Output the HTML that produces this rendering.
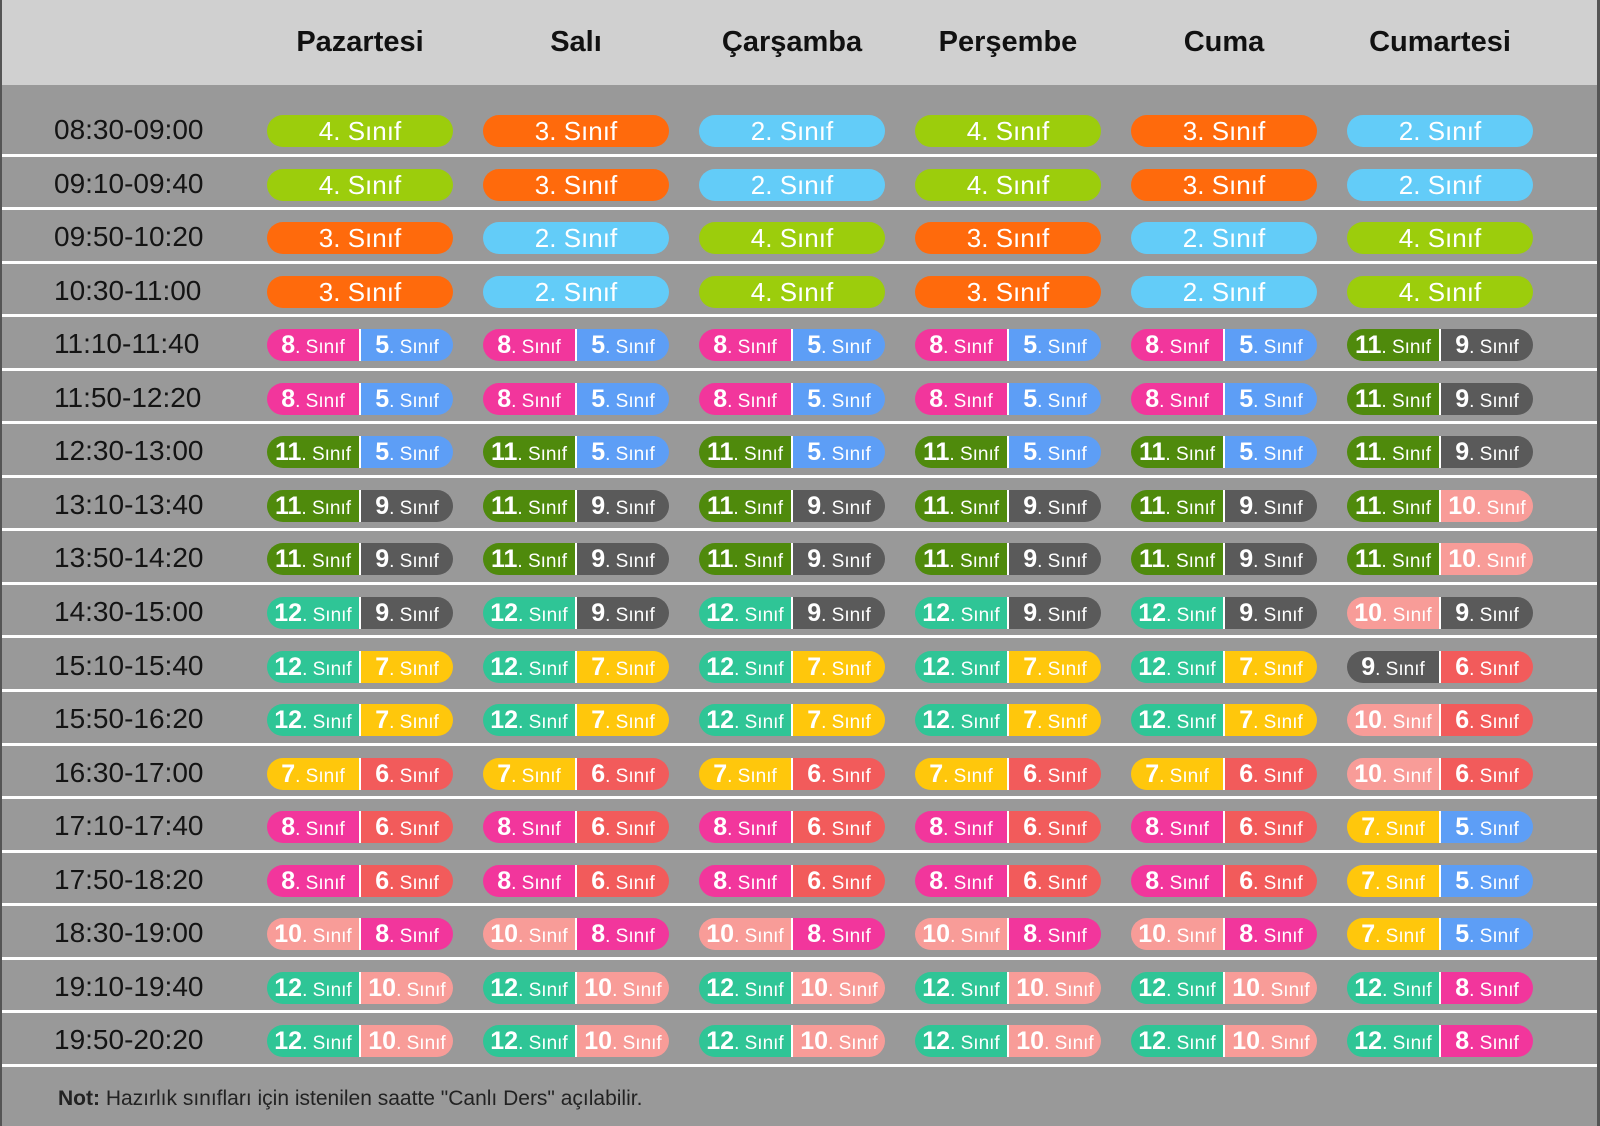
<!DOCTYPE html>
<html><head><meta charset="utf-8"><style>
*{margin:0;padding:0;box-sizing:border-box}
body{width:1600px;height:1126px;background:#999;position:relative;overflow:hidden;font-family:"Liberation Sans",sans-serif}
.hd{position:absolute;left:0;top:0;width:1600px;height:85px;background:#d0d0d0}
.hd div{position:absolute;top:26px;width:216px;margin-left:-108px;text-align:center;font-weight:bold;font-size:29px;color:#111}
.r{position:absolute;left:0;width:1600px;height:53.55px;border-bottom:3px solid #fff}
.t{position:absolute;left:54px;top:11px;font-size:28px;color:#141414}
.p{position:absolute;top:12px;width:186px;height:32px;border-radius:16px;overflow:hidden;display:flex;color:#fff;font-weight:normal;font-size:26px;line-height:32px;text-align:center;justify-content:center}
.p span{flex:1;display:block;font-size:19px;font-weight:normal;text-align:center}
.p span b{font-size:25px;font-weight:bold}
.p span+span{border-left:2px solid #fff}
.c1{left:267px}.c2{left:483px}.c3{left:699px}.c4{left:915px}.c5{left:1131px}.c6{left:1347px}
.g4{background:#9ccd0c}.o3{background:#ff6a0c}.b2{background:#63ccf8}
.k8{background:#f2369c}.b5{background:#5d9ef6}.d11{background:#4f8a0c}.n9{background:#5a5a5a}
.t12{background:#2fc596}.y7{background:#ffc70c}.r6{background:#f25b5b}.s10{background:#f89c98}
.ft{position:absolute;left:58px;top:1087px;font-size:21px;color:#222}
.edge{position:absolute;top:0;width:3px;height:1126px;background:#555}
</style></head><body>
<div class="hd">
<div style="left:360px">Pazartesi</div><div style="left:576px">Salı</div><div style="left:792px">Çarşamba</div><div style="left:1008px">Perşembe</div><div style="left:1224px">Cuma</div><div style="left:1440px">Cumartesi</div>
</div>

<div class="r" style="top:103px;border-top:0"><div class="t">08:30-09:00</div>
<div class="p c1 g4">4. Sınıf</div><div class="p c2 o3">3. Sınıf</div><div class="p c3 b2">2. Sınıf</div><div class="p c4 g4">4. Sınıf</div><div class="p c5 o3">3. Sınıf</div><div class="p c6 b2">2. Sınıf</div></div>

<div class="r" style="top:156.5px"><div class="t">09:10-09:40</div>
<div class="p c1 g4">4. Sınıf</div><div class="p c2 o3">3. Sınıf</div><div class="p c3 b2">2. Sınıf</div><div class="p c4 g4">4. Sınıf</div><div class="p c5 o3">3. Sınıf</div><div class="p c6 b2">2. Sınıf</div></div>

<div class="r" style="top:210.1px"><div class="t">09:50-10:20</div>
<div class="p c1 o3">3. Sınıf</div><div class="p c2 b2">2. Sınıf</div><div class="p c3 g4">4. Sınıf</div><div class="p c4 o3">3. Sınıf</div><div class="p c5 b2">2. Sınıf</div><div class="p c6 g4">4. Sınıf</div></div>

<div class="r" style="top:263.6px"><div class="t">10:30-11:00</div>
<div class="p c1 o3">3. Sınıf</div><div class="p c2 b2">2. Sınıf</div><div class="p c3 g4">4. Sınıf</div><div class="p c4 o3">3. Sınıf</div><div class="p c5 b2">2. Sınıf</div><div class="p c6 g4">4. Sınıf</div></div>

<div class="r" style="top:317.2px"><div class="t">11:10-11:40</div>
<div class="p c1"><span class="k8"><b>8</b>. Sınıf</span><span class="b5"><b>5</b>. Sınıf</span></div>
<div class="p c2"><span class="k8"><b>8</b>. Sınıf</span><span class="b5"><b>5</b>. Sınıf</span></div>
<div class="p c3"><span class="k8"><b>8</b>. Sınıf</span><span class="b5"><b>5</b>. Sınıf</span></div>
<div class="p c4"><span class="k8"><b>8</b>. Sınıf</span><span class="b5"><b>5</b>. Sınıf</span></div>
<div class="p c5"><span class="k8"><b>8</b>. Sınıf</span><span class="b5"><b>5</b>. Sınıf</span></div>
<div class="p c6"><span class="d11"><b>11</b>. Sınıf</span><span class="n9"><b>9</b>. Sınıf</span></div></div>

<div class="r" style="top:370.7px"><div class="t">11:50-12:20</div>
<div class="p c1"><span class="k8"><b>8</b>. Sınıf</span><span class="b5"><b>5</b>. Sınıf</span></div>
<div class="p c2"><span class="k8"><b>8</b>. Sınıf</span><span class="b5"><b>5</b>. Sınıf</span></div>
<div class="p c3"><span class="k8"><b>8</b>. Sınıf</span><span class="b5"><b>5</b>. Sınıf</span></div>
<div class="p c4"><span class="k8"><b>8</b>. Sınıf</span><span class="b5"><b>5</b>. Sınıf</span></div>
<div class="p c5"><span class="k8"><b>8</b>. Sınıf</span><span class="b5"><b>5</b>. Sınıf</span></div>
<div class="p c6"><span class="d11"><b>11</b>. Sınıf</span><span class="n9"><b>9</b>. Sınıf</span></div></div>

<div class="r" style="top:424.3px"><div class="t">12:30-13:00</div>
<div class="p c1"><span class="d11"><b>11</b>. Sınıf</span><span class="b5"><b>5</b>. Sınıf</span></div>
<div class="p c2"><span class="d11"><b>11</b>. Sınıf</span><span class="b5"><b>5</b>. Sınıf</span></div>
<div class="p c3"><span class="d11"><b>11</b>. Sınıf</span><span class="b5"><b>5</b>. Sınıf</span></div>
<div class="p c4"><span class="d11"><b>11</b>. Sınıf</span><span class="b5"><b>5</b>. Sınıf</span></div>
<div class="p c5"><span class="d11"><b>11</b>. Sınıf</span><span class="b5"><b>5</b>. Sınıf</span></div>
<div class="p c6"><span class="d11"><b>11</b>. Sınıf</span><span class="n9"><b>9</b>. Sınıf</span></div></div>

<div class="r" style="top:477.8px"><div class="t">13:10-13:40</div>
<div class="p c1"><span class="d11"><b>11</b>. Sınıf</span><span class="n9"><b>9</b>. Sınıf</span></div>
<div class="p c2"><span class="d11"><b>11</b>. Sınıf</span><span class="n9"><b>9</b>. Sınıf</span></div>
<div class="p c3"><span class="d11"><b>11</b>. Sınıf</span><span class="n9"><b>9</b>. Sınıf</span></div>
<div class="p c4"><span class="d11"><b>11</b>. Sınıf</span><span class="n9"><b>9</b>. Sınıf</span></div>
<div class="p c5"><span class="d11"><b>11</b>. Sınıf</span><span class="n9"><b>9</b>. Sınıf</span></div>
<div class="p c6"><span class="d11"><b>11</b>. Sınıf</span><span class="s10"><b>10</b>. Sınıf</span></div></div>

<div class="r" style="top:531.4px"><div class="t">13:50-14:20</div>
<div class="p c1"><span class="d11"><b>11</b>. Sınıf</span><span class="n9"><b>9</b>. Sınıf</span></div>
<div class="p c2"><span class="d11"><b>11</b>. Sınıf</span><span class="n9"><b>9</b>. Sınıf</span></div>
<div class="p c3"><span class="d11"><b>11</b>. Sınıf</span><span class="n9"><b>9</b>. Sınıf</span></div>
<div class="p c4"><span class="d11"><b>11</b>. Sınıf</span><span class="n9"><b>9</b>. Sınıf</span></div>
<div class="p c5"><span class="d11"><b>11</b>. Sınıf</span><span class="n9"><b>9</b>. Sınıf</span></div>
<div class="p c6"><span class="d11"><b>11</b>. Sınıf</span><span class="s10"><b>10</b>. Sınıf</span></div></div>

<div class="r" style="top:584.9px"><div class="t">14:30-15:00</div>
<div class="p c1"><span class="t12"><b>12</b>. Sınıf</span><span class="n9"><b>9</b>. Sınıf</span></div>
<div class="p c2"><span class="t12"><b>12</b>. Sınıf</span><span class="n9"><b>9</b>. Sınıf</span></div>
<div class="p c3"><span class="t12"><b>12</b>. Sınıf</span><span class="n9"><b>9</b>. Sınıf</span></div>
<div class="p c4"><span class="t12"><b>12</b>. Sınıf</span><span class="n9"><b>9</b>. Sınıf</span></div>
<div class="p c5"><span class="t12"><b>12</b>. Sınıf</span><span class="n9"><b>9</b>. Sınıf</span></div>
<div class="p c6"><span class="s10"><b>10</b>. Sınıf</span><span class="n9"><b>9</b>. Sınıf</span></div></div>

<div class="r" style="top:638.5px"><div class="t">15:10-15:40</div>
<div class="p c1"><span class="t12"><b>12</b>. Sınıf</span><span class="y7"><b>7</b>. Sınıf</span></div>
<div class="p c2"><span class="t12"><b>12</b>. Sınıf</span><span class="y7"><b>7</b>. Sınıf</span></div>
<div class="p c3"><span class="t12"><b>12</b>. Sınıf</span><span class="y7"><b>7</b>. Sınıf</span></div>
<div class="p c4"><span class="t12"><b>12</b>. Sınıf</span><span class="y7"><b>7</b>. Sınıf</span></div>
<div class="p c5"><span class="t12"><b>12</b>. Sınıf</span><span class="y7"><b>7</b>. Sınıf</span></div>
<div class="p c6"><span class="n9"><b>9</b>. Sınıf</span><span class="r6"><b>6</b>. Sınıf</span></div></div>

<div class="r" style="top:692px"><div class="t">15:50-16:20</div>
<div class="p c1"><span class="t12"><b>12</b>. Sınıf</span><span class="y7"><b>7</b>. Sınıf</span></div>
<div class="p c2"><span class="t12"><b>12</b>. Sınıf</span><span class="y7"><b>7</b>. Sınıf</span></div>
<div class="p c3"><span class="t12"><b>12</b>. Sınıf</span><span class="y7"><b>7</b>. Sınıf</span></div>
<div class="p c4"><span class="t12"><b>12</b>. Sınıf</span><span class="y7"><b>7</b>. Sınıf</span></div>
<div class="p c5"><span class="t12"><b>12</b>. Sınıf</span><span class="y7"><b>7</b>. Sınıf</span></div>
<div class="p c6"><span class="s10"><b>10</b>. Sınıf</span><span class="r6"><b>6</b>. Sınıf</span></div></div>

<div class="r" style="top:745.6px"><div class="t">16:30-17:00</div>
<div class="p c1"><span class="y7"><b>7</b>. Sınıf</span><span class="r6"><b>6</b>. Sınıf</span></div>
<div class="p c2"><span class="y7"><b>7</b>. Sınıf</span><span class="r6"><b>6</b>. Sınıf</span></div>
<div class="p c3"><span class="y7"><b>7</b>. Sınıf</span><span class="r6"><b>6</b>. Sınıf</span></div>
<div class="p c4"><span class="y7"><b>7</b>. Sınıf</span><span class="r6"><b>6</b>. Sınıf</span></div>
<div class="p c5"><span class="y7"><b>7</b>. Sınıf</span><span class="r6"><b>6</b>. Sınıf</span></div>
<div class="p c6"><span class="s10"><b>10</b>. Sınıf</span><span class="r6"><b>6</b>. Sınıf</span></div></div>

<div class="r" style="top:799.1px"><div class="t">17:10-17:40</div>
<div class="p c1"><span class="k8"><b>8</b>. Sınıf</span><span class="r6"><b>6</b>. Sınıf</span></div>
<div class="p c2"><span class="k8"><b>8</b>. Sınıf</span><span class="r6"><b>6</b>. Sınıf</span></div>
<div class="p c3"><span class="k8"><b>8</b>. Sınıf</span><span class="r6"><b>6</b>. Sınıf</span></div>
<div class="p c4"><span class="k8"><b>8</b>. Sınıf</span><span class="r6"><b>6</b>. Sınıf</span></div>
<div class="p c5"><span class="k8"><b>8</b>. Sınıf</span><span class="r6"><b>6</b>. Sınıf</span></div>
<div class="p c6"><span class="y7"><b>7</b>. Sınıf</span><span class="b5"><b>5</b>. Sınıf</span></div></div>

<div class="r" style="top:852.7px"><div class="t">17:50-18:20</div>
<div class="p c1"><span class="k8"><b>8</b>. Sınıf</span><span class="r6"><b>6</b>. Sınıf</span></div>
<div class="p c2"><span class="k8"><b>8</b>. Sınıf</span><span class="r6"><b>6</b>. Sınıf</span></div>
<div class="p c3"><span class="k8"><b>8</b>. Sınıf</span><span class="r6"><b>6</b>. Sınıf</span></div>
<div class="p c4"><span class="k8"><b>8</b>. Sınıf</span><span class="r6"><b>6</b>. Sınıf</span></div>
<div class="p c5"><span class="k8"><b>8</b>. Sınıf</span><span class="r6"><b>6</b>. Sınıf</span></div>
<div class="p c6"><span class="y7"><b>7</b>. Sınıf</span><span class="b5"><b>5</b>. Sınıf</span></div></div>

<div class="r" style="top:906.2px"><div class="t">18:30-19:00</div>
<div class="p c1"><span class="s10"><b>10</b>. Sınıf</span><span class="k8"><b>8</b>. Sınıf</span></div>
<div class="p c2"><span class="s10"><b>10</b>. Sınıf</span><span class="k8"><b>8</b>. Sınıf</span></div>
<div class="p c3"><span class="s10"><b>10</b>. Sınıf</span><span class="k8"><b>8</b>. Sınıf</span></div>
<div class="p c4"><span class="s10"><b>10</b>. Sınıf</span><span class="k8"><b>8</b>. Sınıf</span></div>
<div class="p c5"><span class="s10"><b>10</b>. Sınıf</span><span class="k8"><b>8</b>. Sınıf</span></div>
<div class="p c6"><span class="y7"><b>7</b>. Sınıf</span><span class="b5"><b>5</b>. Sınıf</span></div></div>

<div class="r" style="top:959.8px"><div class="t">19:10-19:40</div>
<div class="p c1"><span class="t12"><b>12</b>. Sınıf</span><span class="s10"><b>10</b>. Sınıf</span></div>
<div class="p c2"><span class="t12"><b>12</b>. Sınıf</span><span class="s10"><b>10</b>. Sınıf</span></div>
<div class="p c3"><span class="t12"><b>12</b>. Sınıf</span><span class="s10"><b>10</b>. Sınıf</span></div>
<div class="p c4"><span class="t12"><b>12</b>. Sınıf</span><span class="s10"><b>10</b>. Sınıf</span></div>
<div class="p c5"><span class="t12"><b>12</b>. Sınıf</span><span class="s10"><b>10</b>. Sınıf</span></div>
<div class="p c6"><span class="t12"><b>12</b>. Sınıf</span><span class="k8"><b>8</b>. Sınıf</span></div></div>

<div class="r" style="top:1013.3px"><div class="t">19:50-20:20</div>
<div class="p c1"><span class="t12"><b>12</b>. Sınıf</span><span class="s10"><b>10</b>. Sınıf</span></div>
<div class="p c2"><span class="t12"><b>12</b>. Sınıf</span><span class="s10"><b>10</b>. Sınıf</span></div>
<div class="p c3"><span class="t12"><b>12</b>. Sınıf</span><span class="s10"><b>10</b>. Sınıf</span></div>
<div class="p c4"><span class="t12"><b>12</b>. Sınıf</span><span class="s10"><b>10</b>. Sınıf</span></div>
<div class="p c5"><span class="t12"><b>12</b>. Sınıf</span><span class="s10"><b>10</b>. Sınıf</span></div>
<div class="p c6"><span class="t12"><b>12</b>. Sınıf</span><span class="k8"><b>8</b>. Sınıf</span></div></div>

<div class="ft"><b>Not:</b> Hazırlık sınıfları için istenilen saatte "Canlı Ders" açılabilir.</div>
<div class="edge" style="left:0;width:2px"></div>
<div class="edge" style="right:0"></div>
</body></html>
